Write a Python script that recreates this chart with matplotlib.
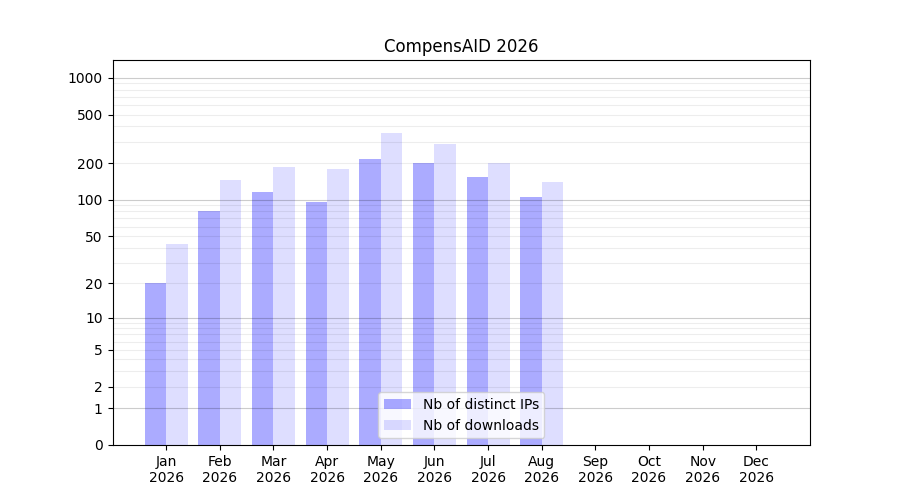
import numpy as np
import matplotlib
matplotlib.use("Agg")
import matplotlib.pyplot as plt

months = ["Jan", "Feb", "Mar", "Apr", "May", "Jun", "Jul", "Aug",
          "Sep", "Oct", "Nov", "Dec"]
year = "2026"
ips = [20, 80, 115, 95, 215, 200, 155, 105, 0, 0, 0, 0]
downloads = [43, 145, 185, 180, 355, 285, 200, 140, 0, 0, 0, 0]

yticks = [0, 1, 2, 5, 10, 20, 50, 100, 200, 500, 1000]
major_grid = [1, 10, 100, 1000]
minor_grid = [k * 10 ** e for e in range(3) for k in range(2, 10)]


def fwd(x):
    return np.log10(1 + np.maximum(x, 0))


def inv(y):
    return 10 ** y - 1


fig, ax = plt.subplots(figsize=(9, 5), dpi=100)
x = np.arange(len(months))
w = 0.4
ax.bar(x - w / 2, ips, w, color="blue", alpha=0.33, label="Nb of distinct IPs")
ax.bar(x + w / 2, downloads, w, color="blue", alpha=0.13, label="Nb of downloads")

ax.set_yscale("function", functions=(fwd, inv))
ax.set_ylim(0, 1400)
ax.set_yticks(yticks)
ax.set_yticklabels([str(t) for t in yticks])
ax.yaxis.set_minor_locator(matplotlib.ticker.NullLocator())

for g in major_grid:
    ax.axhline(g, color="black", alpha=0.2, lw=0.8, zorder=3)
for g in minor_grid:
    ax.axhline(g, color="black", alpha=0.07, lw=0.8, zorder=3)

ax.set_xticks(x)
ax.set_xticklabels([f"{m}\n{year}" for m in months])
ax.set_xlim(-1, 12)
ax.set_title("CompensAID 2026")
ax.legend(loc="lower center")

fig.savefig("out.png")
